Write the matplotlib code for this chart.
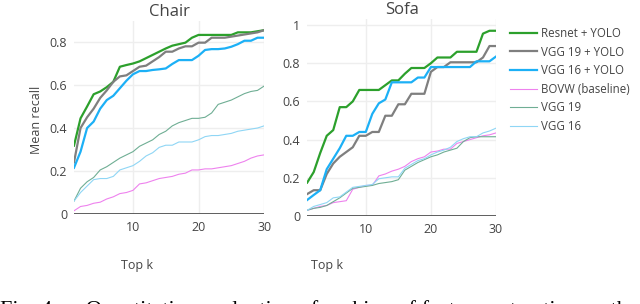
import matplotlib.pyplot as plt
import numpy as np

plt.rcParams['font.family'] = ['Open Sans', 'DejaVu Sans']

k = np.arange(1, 31)
labels = ["Resnet + YOLO", "VGG 19 + YOLO", "VGG 16 + YOLO",
          "BOVW (baseline)", "VGG 19", "VGG 16"]
colors = ['#2ca02c', '#7f7f7f', '#1cb0f6', '#ee82ee', '#6fae94', '#8fd6f5']
widths = [1.6, 1.6, 1.6, 0.8, 0.8, 0.8]

# chair
chair_resnet = [0.318, 0.445, 0.50, 0.557, 0.57, 0.59, 0.615, 0.685, 0.693, 0.70,
                0.71, 0.725, 0.74, 0.755, 0.77, 0.783, 0.79, 0.797, 0.82, 0.833,
                0.833, 0.833, 0.833, 0.833, 0.833, 0.845, 0.845, 0.845, 0.85, 0.855]
chair_vgg19y = [0.24, 0.40, 0.45, 0.49, 0.54, 0.575, 0.615, 0.64, 0.645, 0.665,
                0.685, 0.69, 0.71, 0.73, 0.755, 0.755, 0.77, 0.78, 0.78, 0.797,
                0.797, 0.82, 0.82, 0.82, 0.825, 0.83, 0.835, 0.84, 0.845, 0.855]
chair_vgg16y = [0.215, 0.29, 0.40, 0.43, 0.49, 0.53, 0.55, 0.585, 0.62, 0.65,
                0.665, 0.665, 0.67, 0.673, 0.677, 0.698, 0.716, 0.716, 0.716, 0.736,
                0.763, 0.767, 0.767, 0.77, 0.778, 0.79, 0.806, 0.806, 0.82, 0.82]
chair_bovw = [0.015, 0.035, 0.04, 0.05, 0.055, 0.07, 0.08, 0.095, 0.10, 0.11,
              0.14, 0.145, 0.155, 0.165, 0.17, 0.175, 0.185, 0.19, 0.205, 0.205,
              0.21, 0.21, 0.215, 0.22, 0.225, 0.235, 0.245, 0.26, 0.27, 0.275]
chair_vgg19 = [0.06, 0.12, 0.15, 0.17, 0.205, 0.22, 0.24, 0.26, 0.275, 0.29,
               0.315, 0.33, 0.345, 0.37, 0.385, 0.41, 0.425, 0.435, 0.445, 0.445,
               0.45, 0.47, 0.51, 0.52, 0.53, 0.545, 0.56, 0.57, 0.575, 0.595]
chair_vgg16 = [0.06, 0.10, 0.13, 0.16, 0.165, 0.165, 0.175, 0.205, 0.215, 0.225,
               0.245, 0.27, 0.285, 0.31, 0.32, 0.32, 0.335, 0.335, 0.335, 0.345,
               0.36, 0.365, 0.365, 0.37, 0.375, 0.385, 0.39, 0.395, 0.40, 0.41]

# sofa
sofa_resnet = [0.175, 0.23, 0.33, 0.42, 0.45, 0.57, 0.57, 0.60, 0.66, 0.66,
               0.66, 0.66, 0.685, 0.71, 0.71, 0.745, 0.775, 0.775, 0.775, 0.80,
               0.83, 0.83, 0.83, 0.86, 0.86, 0.86, 0.86, 0.955, 0.97, 0.97]
sofa_vgg19y = [0.115, 0.135, 0.135, 0.22, 0.275, 0.31, 0.335, 0.36, 0.42, 0.42,
               0.44, 0.44, 0.525, 0.525, 0.585, 0.585, 0.64, 0.64, 0.64, 0.755,
               0.78, 0.78, 0.805, 0.805, 0.805, 0.805, 0.805, 0.83, 0.89, 0.89]
sofa_vgg16y = [0.084, 0.11, 0.135, 0.245, 0.30, 0.355, 0.42, 0.42, 0.44, 0.44,
               0.535, 0.59, 0.61, 0.70, 0.70, 0.70, 0.70, 0.725, 0.725, 0.78,
               0.78, 0.78, 0.78, 0.78, 0.78, 0.78, 0.81, 0.81, 0.81, 0.835]
sofa_bovw = [0.03, 0.04, 0.05, 0.055, 0.07, 0.075, 0.08, 0.14, 0.15, 0.16,
             0.16, 0.21, 0.22, 0.235, 0.245, 0.26, 0.285, 0.30, 0.31, 0.335,
             0.34, 0.35, 0.35, 0.38, 0.39, 0.40, 0.41, 0.42, 0.425, 0.435]
sofa_vgg19 = [0.03, 0.04, 0.045, 0.055, 0.075, 0.095, 0.12, 0.145, 0.15, 0.155,
              0.16, 0.17, 0.175, 0.18, 0.19, 0.24, 0.26, 0.28, 0.295, 0.31,
              0.32, 0.335, 0.345, 0.355, 0.39, 0.41, 0.415, 0.415, 0.415, 0.415]
sofa_vgg16 = [0.03, 0.05, 0.06, 0.07, 0.095, 0.10, 0.125, 0.15, 0.155, 0.16,
              0.165, 0.195, 0.20, 0.205, 0.205, 0.25, 0.27, 0.29, 0.30, 0.32,
              0.335, 0.345, 0.36, 0.39, 0.405, 0.415, 0.415, 0.435, 0.445, 0.46]

chair = [chair_resnet, chair_vgg19y, chair_vgg16y, chair_bovw, chair_vgg19, chair_vgg16]
sofa = [sofa_resnet, sofa_vgg19y, sofa_vgg16y, sofa_bovw, sofa_vgg19, sofa_vgg16]

fig = plt.figure(figsize=(6.4, 3.04), dpi=100)
ax1 = fig.add_axes([0.1156, 0.296, 0.297, 0.6365])
ax2 = fig.add_axes([0.48, 0.2895, 0.295, 0.647])


def style(ax, title, yticks, ytop):
    ax.set_xlim(1, 30)
    ax.set_ylim(0, ytop)
    for s in ax.spines.values():
        s.set_visible(False)
    ax.set_xticks([10, 20, 30])
    ax.set_yticks(yticks)
    ax.set_yticklabels([('%g' % t) for t in yticks])
    ax.tick_params(length=0, labelsize=9, labelcolor='#444444', pad=5)
    ax.grid(True, color='#eeeeee', linewidth=1)
    ax.set_axisbelow(True)
    ax.axhline(0, color='#444444', linewidth=1.2, zorder=1)
    ax.set_title(title, fontsize=12, color='#444444', pad=3.5)


for ax, data in ((ax1, chair), (ax2, sofa)):
    for vals, c, w, lab in zip(data, colors, widths, labels):
        ax.plot(k, vals, color=c, linewidth=w, label=lab, zorder=3)

style(ax1, "Chair", [0, 0.2, 0.4, 0.6, 0.8], 0.9)
style(ax2, "Sofa", [0, 0.2, 0.4, 0.6, 0.8, 1], 1.03)

fig.text(37 / 640, 1 - 120 / 304, "Mean recall", rotation=90, ha='center',
         va='center', fontsize=9, color='#444444')
fig.text(137 / 640, 1 - 265 / 304, "Top k", ha='center', va='center',
         fontsize=9, color='#444444')
fig.text(327 / 640, 1 - 265 / 304, "Top k", ha='center', va='center',
         fontsize=9, color='#444444')

handles, labs = ax2.get_legend_handles_labels()
fig.legend(handles, labs, loc='upper left', bbox_to_anchor=(510 / 640, 1 - 27 / 304),
           frameon=False, fontsize=8.3, handlelength=2.3, handletextpad=0.4,
           labelspacing=0.48, borderpad=0, borderaxespad=0, labelcolor='#444444')

fig.text(0.0, -0.036, "Fig. 4.     Quantitative evaluation of ranking of feature extraction methods",
         ha='left', va='baseline', fontsize=16, family='Liberation Serif', color='black')

fig.savefig("out.png", dpi=100)
